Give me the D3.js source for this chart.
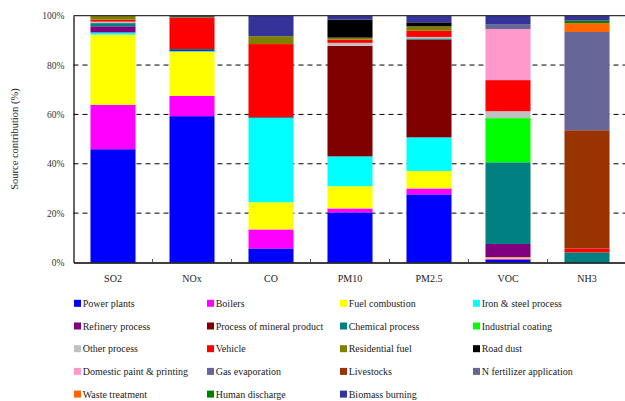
<!DOCTYPE html>
<html>
<head>
<meta charset="utf-8">
<script src="https://cdn.jsdelivr.net/npm/d3@7/dist/d3.min.js"></script>
<style>
  html, body { margin: 0; padding: 0; background: #fff; }
  svg { display: block; }
  svg text { font-family: "Liberation Serif", "Times New Roman", serif; }
</style>
</head>
<body>
<svg id="chart" width="625" height="401"></svg>
<script>
// ---- data ----
const categories = ["SO2", "NOx", "CO", "PM10", "PM2.5", "VOC", "NH3"];
const sources = [
  "Power plants", "Boilers", "Fuel combustion", "Iron & steel process",
  "Refinery process", "Process of mineral product", "Chemical process", "Industrial coating",
  "Other process", "Vehicle", "Residential fuel", "Road dust",
  "Domestic paint & printing", "Gas evaporation", "Livestocks", "N fertilizer application",
  "Waste treatment", "Human discharge", "Biomass burning"
];
const sourceColors = [
  "#0000FF", "#FF00FF", "#FFFF00", "#00FFFF",
  "#800080", "#800000", "#008080", "#00FF00",
  "#C0C0C0", "#FF0000", "#808000", "#000000",
  "#FF99CC", "#666699", "#993300", "#666699",
  "#FF6600", "#008000", "#333399"
];
// percent contributions, one array per pollutant, in source order
const SO2  = [45.9, 18.0, 28.4, 0.9, 2.5, 0, 1.3, 0, 0.6, 0.8, 1.6, 0, 0, 0, 0, 0, 0, 0, 0];
const NOx  = [59.3, 8.2, 17.8, 0.4, 0.4, 0, 0.4, 0, 0, 12.6, 0.4, 0, 0, 0, 0, 0, 0, 0, 0.5];
const CO   = [5.7, 7.7, 11.0, 34.1, 0, 0, 0.4, 0, 0, 29.6, 3.2, 0, 0, 0, 0, 0, 0, 0, 8.3];
const PM10 = [20.3, 1.6, 9.0, 12.1, 0, 44.8, 0, 0, 1.2, 1.3, 0.8, 7.3, 0, 0, 0, 0, 0, 0, 1.6];
const PM25 = [27.6, 2.4, 7.1, 13.6, 0, 39.6, 0.5, 0, 0.6, 2.5, 1.8, 1.6, 0, 0, 0, 0, 0, 0, 2.7];
const VOC  = [1.2, 0.4, 0.5, 0, 5.4, 0, 33.1, 17.9, 2.8, 12.6, 0, 0, 20.7, 2.0, 0, 0, 0, 0, 3.4];
const NH3  = [0, 0, 0, 0, 0, 0, 4.1, 0, 0, 1.6, 0, 0, 0, 0, 47.9, 39.8, 3.6, 1.0, 2.0];
const seriesByCategory = [SO2, NOx, CO, PM10, PM25, VOC, NH3];
const yTicks = [0, 20, 40, 60, 80, 100];
const yTickLabels = ["0%", "20%", "40%", "60%", "80%", "100%"];
const yTitle = "Source contribution (%)";

// ---- build table ----
const table = categories.map((c, i) => {
  const row = { category: c };
  sources.forEach((s, j) => { row[s] = seriesByCategory[i][j]; });
  return row;
});
const stacked = d3.stack().keys(sources)(table);

const svg = d3.select("#chart");
const pLeft = 73.5, pRight = 626.5, pTop = 15.7, pBottom = 262.5;
const serif = "'Liberation Serif', 'Times New Roman', serif";

const x = d3.scaleBand().domain(categories).range([pLeft, pRight])
  .paddingInner(0.43).paddingOuter(0.215);
const y = d3.scaleLinear().domain([0, 100]).range([pBottom, pTop]);

// gridlines
svg.append("g").selectAll("line")
  .data(yTicks.filter(t => t > 0 && t < 100))
  .join("line")
  .attr("x1", pLeft).attr("x2", pRight)
  .attr("y1", d => y(d)).attr("y2", d => y(d))
  .attr("stroke", "#000").attr("stroke-width", 1)
  .attr("stroke-dasharray", "5,4");

// bars
svg.append("g").selectAll("g")
  .data(stacked)
  .join("g")
  .attr("fill", (d, i) => sourceColors[i])
  .selectAll("rect")
  .data(d => d)
  .join("rect")
  .attr("x", d => x(d.data.category))
  .attr("width", x.bandwidth())
  .attr("y", d => y(d[1]))
  .attr("height", d => Math.max(0, y(d[0]) - y(d[1])));

// frame: top line
svg.append("line").attr("x1", pLeft).attr("x2", pRight)
  .attr("y1", y(100)).attr("y2", y(100))
  .attr("stroke", "#333").attr("stroke-width", 1.2);

// y axis
const yAxis = d3.axisLeft(y).tickValues(yTicks)
  .tickFormat((d, i) => yTickLabels[i]).tickSize(0).tickPadding(9);
const gy = svg.append("g").attr("transform", `translate(${pLeft},0)`).call(yAxis)
  .attr("font-family", serif);
gy.select(".domain").attr("stroke", "#000").attr("stroke-width", 1.2);
gy.selectAll("text").attr("font-size", 9.5).attr("fill", "#333");

// x axis
const xAxis = d3.axisBottom(x).tickSize(0).tickPadding(12);
const gx = svg.append("g").attr("transform", `translate(0,${pBottom})`).call(xAxis)
  .attr("font-family", serif);
gx.select(".domain").attr("stroke", "#000").attr("stroke-width", 1.6);
gx.selectAll("text").attr("font-size", 10).attr("fill", "#222");
// boundary ticks between categories
svg.append("g").selectAll("line")
  .data(categories.slice(1))
  .join("line")
  .attr("x1", d => x(d) - x.step() * x.paddingInner() / 2)
  .attr("x2", d => x(d) - x.step() * x.paddingInner() / 2)
  .attr("y1", pBottom).attr("y2", pBottom - 3.5)
  .attr("stroke", "#555").attr("stroke-width", 1);

// y title
svg.append("text")
  .attr("transform", `translate(17.5,${(pTop + pBottom) / 2}) rotate(-90)`)
  .attr("text-anchor", "middle")
  .attr("font-family", serif)
  .attr("font-size", 10.5).attr("fill", "#222")
  .text(yTitle);

// legend
const lg = svg.append("g").attr("font-family", serif);
const items = lg.selectAll("g").data(sources).join("g")
  .attr("transform", (d, i) => `translate(${74 + (i % 4) * 133},${303.3 + Math.floor(i / 4) * 22.7})`);
items.append("rect").attr("x", 0).attr("y", -3.5).attr("width", 7).attr("height", 7)
  .attr("fill", (d, i) => sourceColors[i]);
items.append("text").attr("x", 8.7).attr("y", 0).attr("dy", "0.35em")
  .attr("font-size", 10).attr("fill", "#222").text(d => d);
</script>
</body>
</html>
